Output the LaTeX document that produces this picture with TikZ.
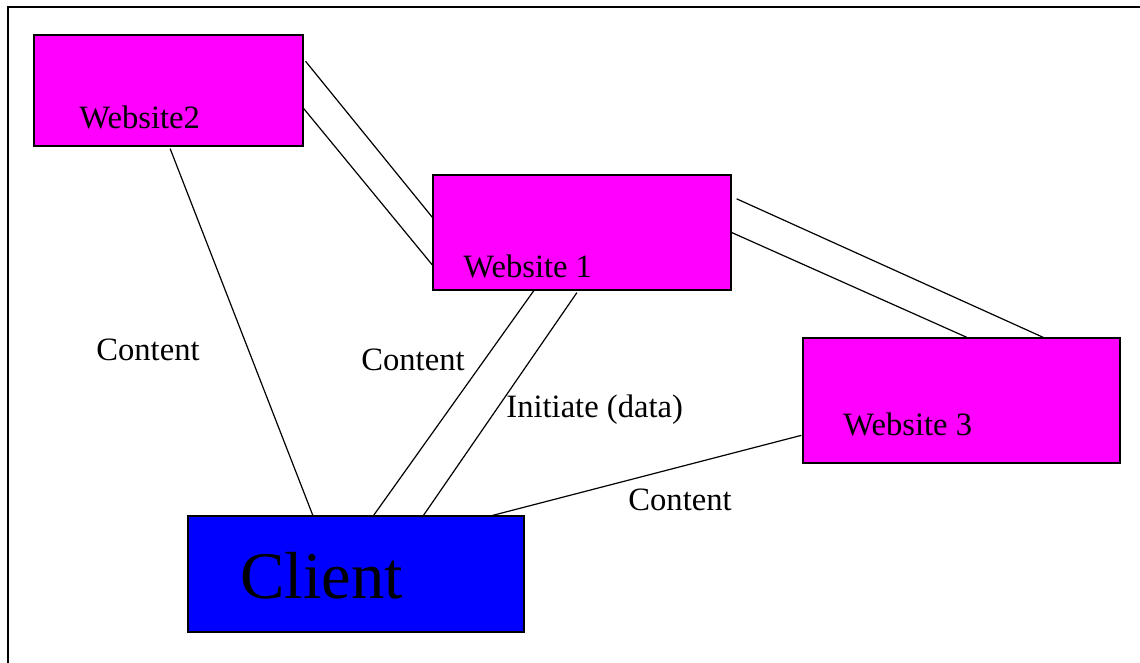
\documentclass[tikz,border=0pt]{standalone}
\usepackage{fontspec}
\setmainfont{Liberation Serif}
\usetikzlibrary{calc}
\definecolor{sitemag}{HTML}{FF00FF}
\definecolor{clientblue}{HTML}{0000FF}
\tikzset{
  site/.style={draw=black, line width=0.6pt, fill=sitemag, inner sep=0pt},
  clientbox/.style={draw=black, line width=0.6pt, fill=clientblue, inner sep=0pt},
  lbl/.style={anchor=base west, inner sep=0pt, font=\fontsize{16.3}{19}\selectfont},
  conn/.style={draw=black, line width=0.6pt},
  frameline/.style={draw=black, line width=0.9pt}
}
\begin{document}
\begin{tikzpicture}[x=0.5pt, y=-0.5pt]
\useasboundingbox (0,0) rectangle (1140,663);
\fill[white] (0,0) rectangle (1140,663);
% frame
\coordinate (fbl) at (8,663);
\coordinate (ftl) at (8,7);
\coordinate (ftr) at (1140,7);
\draw[frameline] (fbl) -- (ftl) -- (ftr);

% boxes
\node[site, minimum width=134.5pt, minimum height=55.5pt] (w2) at (168.5,90.5) {};
\node[site, minimum width=149pt, minimum height=57.5pt] (w1) at (582,232.5) {};
\node[site, minimum width=158.5pt, minimum height=62.5pt] (w3) at (961.5,400.5) {};
\node[clientbox, minimum width=168pt, minimum height=58pt] (cl) at (356,574) {};

% box texts
\node[lbl] (w2t) at (79,129) {Website2};
\node[lbl] (w1t) at (463,278) {Website 1};
\node[lbl] (w3t) at (843,435) {Website 3};
\node[anchor=base west, inner sep=0pt, font=\fontsize{33.3}{38}\selectfont] (clt) at (240,598) {Client};

% connector labels
\node[lbl] (c1) at (96,360) {Content};
\node[lbl] (c2) at (361,370) {Content};
\node[lbl] (c3) at (506,417) {Initiate (data)};
\node[lbl] (c4) at (628,510) {Content};

% connectors Website2 -- Website1
\draw[conn] ($(w2.north east)!0.24!(w2.south east)+(2,0)$) -- ($(w1.north west)!0.37!(w1.south west)$);
\draw[conn] ($(w2.north east)!0.66!(w2.south east)$) -- ($(w1.north west)!0.78!(w1.south west)$);
% Website1 -- Website3
\draw[conn] ($(w1.north east)!0.21!(w1.south east)+(5,0)$) -- ($(w3.north west)!0.757!(w3.north east)$);
\draw[conn] ($(w1.north east)!0.50!(w1.south east)$) -- ($(w3.north west)!0.517!(w3.north east)$);
% Website2 -- Client
\draw[conn] ($(w2.south west)!0.506!(w2.south east)+(0,2)$) -- ($(cl.north west)!0.372!(cl.north east)$);
% Website1 -- Client
\draw[conn] ($(w1.south west)!0.339!(w1.south east)$) -- ($(cl.north west)!0.548!(cl.north east)+(0,2)$);
\draw[conn] ($(w1.south west)!0.483!(w1.south east)+(0,2)$) -- ($(cl.north west)!0.696!(cl.north east)+(0,2)$);
% Website3 -- Client
\draw[conn] ($(w3.north west)!0.776!(w3.south west)+(-1,0)$) -- ($(cl.north west)!0.905!(cl.north east)$);
\end{tikzpicture}
\end{document}
